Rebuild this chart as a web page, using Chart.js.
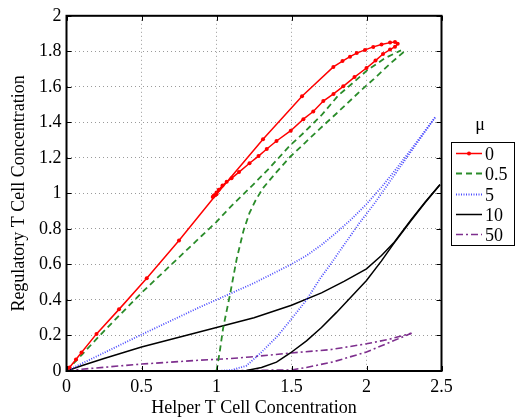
<!DOCTYPE html>
<html>
<head>
<meta charset="utf-8">
<script src="https://cdn.jsdelivr.net/npm/chart.js@4/dist/chart.umd.min.js"></script>
<style>
html,body{margin:0;padding:0;background:#fff;}
#wrap{position:relative;width:515px;height:420px;overflow:hidden;}
#c{position:absolute;left:0;top:0;}
.lg{position:absolute;font-family:"Liberation Serif","Times New Roman",serif;font-size:18px;color:#000;}
#lgTitle{left:451px;top:113px;width:58px;text-align:center;line-height:22px;}
#lgBox{left:451px;top:142px;width:64px;height:104px;box-sizing:border-box;border:1px solid #000;background:#fff;}
.row{position:absolute;left:0;height:20px;line-height:20px;width:62px;}
.row svg{position:absolute;left:4px;top:0;}
.row span{position:absolute;left:33px;top:0;}
</style>
</head>
<body>
<div id="wrap">
<canvas id="c" width="515" height="420"></canvas>
<div class="lg" id="lgTitle">μ</div>
<div class="lg" id="lgBox"></div>
</div>
<script>
// ---- data ----
const muLabels = ['0', '0.5', '5', '10', '50'];
const xTicks = [0, 0.5, 1, 1.5, 2, 2.5];
const xTickLabels = ['0', '0.5', '1', '1.5', '2', '2.5'];
const yTicks = [0, 0.2, 0.4, 0.6, 0.8, 1, 1.2, 1.4, 1.6, 1.8, 2];
const yTickLabels = ['0', '0.2', '0.4', '0.6', '0.8', '1', '1.2', '1.4', '1.6', '1.8', '2'];

// mu = 0
const mu0X = [0, 0.02, 0.063, 0.1, 0.2, 0.35, 0.535, 0.75, 1.0, 1.31, 1.57, 1.779, 1.84, 1.89, 1.935, 1.99, 2.045, 2.1, 2.157, 2.19, 2.208, 2.19, 2.157, 2.11, 2.06, 2.0, 1.92, 1.845, 1.78, 1.712, 1.645, 1.579, 1.495, 1.40, 1.335, 1.28, 1.22, 1.15, 1.10, 1.068, 1.04, 1.015, 1.0, 0.985, 0.975, 0.98, 0.99];
const mu0Y = [0, 0.02, 0.065, 0.104, 0.209, 0.347, 0.522, 0.735, 0.995, 1.305, 1.547, 1.712, 1.745, 1.77, 1.79, 1.808, 1.825, 1.838, 1.849, 1.852, 1.843, 1.826, 1.81, 1.785, 1.748, 1.706, 1.655, 1.603, 1.56, 1.52, 1.461, 1.418, 1.353, 1.295, 1.25, 1.21, 1.17, 1.12, 1.085, 1.065, 1.045, 1.02, 1.005, 0.99, 0.98, 0.985, 0.99];

// mu = 0.5 (from origin, from (1,0))
const mu05aX = [0, 0.1, 0.25, 0.5, 0.75, 0.9, 1.0, 1.1, 1.245, 1.35, 1.49, 1.58, 1.7, 1.81, 1.92, 2.0, 2.12, 2.23];
const mu05aY = [0, 0.09, 0.225, 0.44, 0.64, 0.76, 0.84, 0.93, 1.05, 1.14, 1.27, 1.34, 1.44, 1.55, 1.63, 1.69, 1.76, 1.805];
const mu05bX = [1.0, 1.02, 1.045, 1.09, 1.135, 1.18, 1.22, 1.26, 1.31, 1.4, 1.49, 1.59, 1.69, 1.8, 1.957, 2.05, 2.157, 2.26];
const mu05bY = [0, 0.1, 0.245, 0.43, 0.633, 0.79, 0.89, 0.96, 1.03, 1.12, 1.205, 1.285, 1.365, 1.45, 1.575, 1.645, 1.73, 1.805];

// mu = 5
const mu5aX = [0, 0.5, 0.89, 1.09, 1.25, 1.49, 1.6, 1.7, 1.8, 1.9, 2.0, 2.1, 2.2, 2.3, 2.457];
const mu5aY = [0, 0.205, 0.36, 0.435, 0.495, 0.597, 0.65, 0.71, 0.78, 0.855, 0.94, 1.035, 1.14, 1.25, 1.428];
const mu5bX = [1.0, 1.1, 1.2, 1.29, 1.4, 1.49, 1.6, 1.69, 1.757, 1.85, 1.95, 2.05, 2.15, 2.3, 2.457];
const mu5bY = [0, 0.005, 0.03, 0.098, 0.19, 0.283, 0.40, 0.52, 0.597, 0.71, 0.83, 0.94, 1.06, 1.24, 1.428];

// mu = 10
const mu10aX = [0, 0.1, 0.25, 0.5, 0.75, 1.0, 1.25, 1.5, 1.7, 1.85, 2.0, 2.1, 2.18, 2.3, 2.39, 2.49];
const mu10aY = [0, 0.03, 0.07, 0.135, 0.19, 0.245, 0.30, 0.37, 0.44, 0.505, 0.575, 0.65, 0.72, 0.855, 0.95, 1.05];
const mu10bX = [1.0, 1.2, 1.3, 1.4, 1.49, 1.6, 1.7, 1.8, 1.9, 2.0, 2.1, 2.18, 2.3, 2.39, 2.49];
const mu10bY = [0, 0.003, 0.02, 0.05, 0.10, 0.17, 0.245, 0.33, 0.42, 0.51, 0.62, 0.716, 0.85, 0.947, 1.049];

// mu = 50
const mu50aX = [0, 0.1, 0.5, 0.89, 1.09, 1.223, 1.49, 1.757, 2.0, 2.157, 2.3];
const mu50aY = [0, 0.01, 0.039, 0.061, 0.07, 0.079, 0.101, 0.12, 0.153, 0.18, 0.213];
const mu50bX = [1.0, 1.2, 1.5, 1.6, 1.78, 2.0, 2.157, 2.3];
const mu50bY = [0, 0.003, 0.006, 0.02, 0.052, 0.107, 0.162, 0.213];

// ---- styles ----
const styles = [
  {color: '#ff0000', dash: [], width: 1.5, marker: 2},
  {color: '#2a8c2a', dash: [6, 4], width: 1.8, marker: 0},
  {color: '#4b4bff', dash: [1, 1.5], width: 1.8, marker: 0},
  {color: '#000000', dash: [], width: 1.5, marker: 0},
  {color: '#7e2f8e', dash: [7, 3, 2, 3], width: 1.6, marker: 0}
];

const series = [
  [[mu0X, mu0Y]],
  [[mu05aX, mu05aY], [mu05bX, mu05bY]],
  [[mu5aX, mu5aY], [mu5bX, mu5bY]],
  [[mu10aX, mu10aY], [mu10bX, mu10bY]],
  [[mu50aX, mu50aY], [mu50bX, mu50bY]]
];

const zip = (xs, ys) => xs.map((x, i) => ({x: x, y: ys[i]}));
const datasets = [];
series.forEach((branches, k) => {
  const st = styles[k];
  branches.forEach(([xs, ys]) => {
    datasets.push({
      label: muLabels[k],
      data: zip(xs, ys),
      showLine: true,
      borderColor: st.color,
      backgroundColor: st.color,
      borderWidth: st.width,
      borderDash: st.dash,
      pointRadius: st.marker,
      pointHoverRadius: st.marker,
      pointBorderWidth: 0,
      pointBackgroundColor: st.color,
      tension: 0,
      fill: false
    });
  });
});

const FONT = 'Liberation Serif';

const frame = {
  id: 'frame',
  afterDatasetsDraw(chart) {
    const {ctx, chartArea: a, scales: {x, y}} = chart;
    ctx.save();
    ctx.strokeStyle = '#000';
    ctx.lineWidth = 1;
    const L = 5;
    ctx.beginPath();
    xTicks.forEach(v => {
      const px = Math.round(x.getPixelForValue(v)) + 0.5;
      ctx.moveTo(px, a.bottom); ctx.lineTo(px, a.bottom - L);
      ctx.moveTo(px, a.top); ctx.lineTo(px, a.top + L);
    });
    yTicks.forEach(v => {
      const py = Math.round(y.getPixelForValue(v)) + 0.5;
      ctx.moveTo(a.left, py); ctx.lineTo(a.left + L, py);
      ctx.moveTo(a.right, py); ctx.lineTo(a.right - L, py);
    });
    ctx.stroke();
    ctx.lineWidth = 2;
    ctx.strokeRect(a.left, a.top, a.right - a.left, a.bottom - a.top);
    ctx.restore();
  }
};

new Chart(document.getElementById('c').getContext('2d'), {
  type: 'scatter',
  data: {datasets: datasets},
  plugins: [frame],
  options: {
    responsive: false,
    animation: false,
    devicePixelRatio: 1,
    layout: {padding: {left: 0, right: 73.5, top: 10, bottom: 0}},
    plugins: {legend: {display: false}, tooltip: {enabled: false}},
    scales: {
      x: {
        type: 'linear', min: 0, max: 2.5,
        afterBuildTicks: s => { s.ticks = xTicks.map(v => ({value: v})); },
        afterFit: s => { s.height = 49; },
        grid: {color: '#9a9a9a', lineWidth: 1, drawTicks: false},
        border: {display: false, dash: [1, 3]},
        ticks: {padding: 5, color: '#000', autoSkip: false, maxRotation: 0,
                font: {family: FONT, size: 18},
                callback: (v, i) => xTickLabels[i]},
        title: {display: true, text: 'Helper T Cell Concentration', color: '#000',
                font: {family: FONT, size: 18}, padding: {top: 0, bottom: 1}}
      },
      y: {
        type: 'linear', min: 0, max: 2,
        afterBuildTicks: s => { s.ticks = yTicks.map(v => ({value: v})); },
        afterFit: s => { s.width = 66.5; },
        grid: {color: '#9a9a9a', lineWidth: 1, drawTicks: false},
        border: {display: false, dash: [1, 3]},
        ticks: {padding: 5, color: '#000', autoSkip: false,
                font: {family: FONT, size: 18},
                callback: (v, i) => yTickLabels[i]},
        title: {display: true, text: 'Regulatory T Cell Concentration', color: '#000',
                font: {family: FONT, size: 18}, padding: {top: 8, bottom: 0}}
      }
    }
  }
});

// ---- legend (HTML) ----
const box = document.getElementById('lgBox');
muLabels.forEach((lab, k) => {
  const st = styles[k];
  const row = document.createElement('div');
  row.className = 'row';
  row.style.top = (1 + k * 20.25) + 'px';
  const dash = st.dash.length ? ' stroke-dasharray="' + st.dash.join(',') + '"' : '';
  let svg = '<svg width="27" height="20" xmlns="http://www.w3.org/2000/svg">' +
    '<line x1="0" y1="9.5" x2="26" y2="9.5" stroke="' + st.color + '" stroke-width="' + st.width + '"' + dash + '/>';
  if (st.marker) svg += '<circle cx="13" cy="9.5" r="' + st.marker + '" fill="' + st.color + '"/>';
  svg += '</svg>';
  row.innerHTML = svg + '<span>' + lab + '</span>';
  box.appendChild(row);
});
</script>
</body>
</html>
